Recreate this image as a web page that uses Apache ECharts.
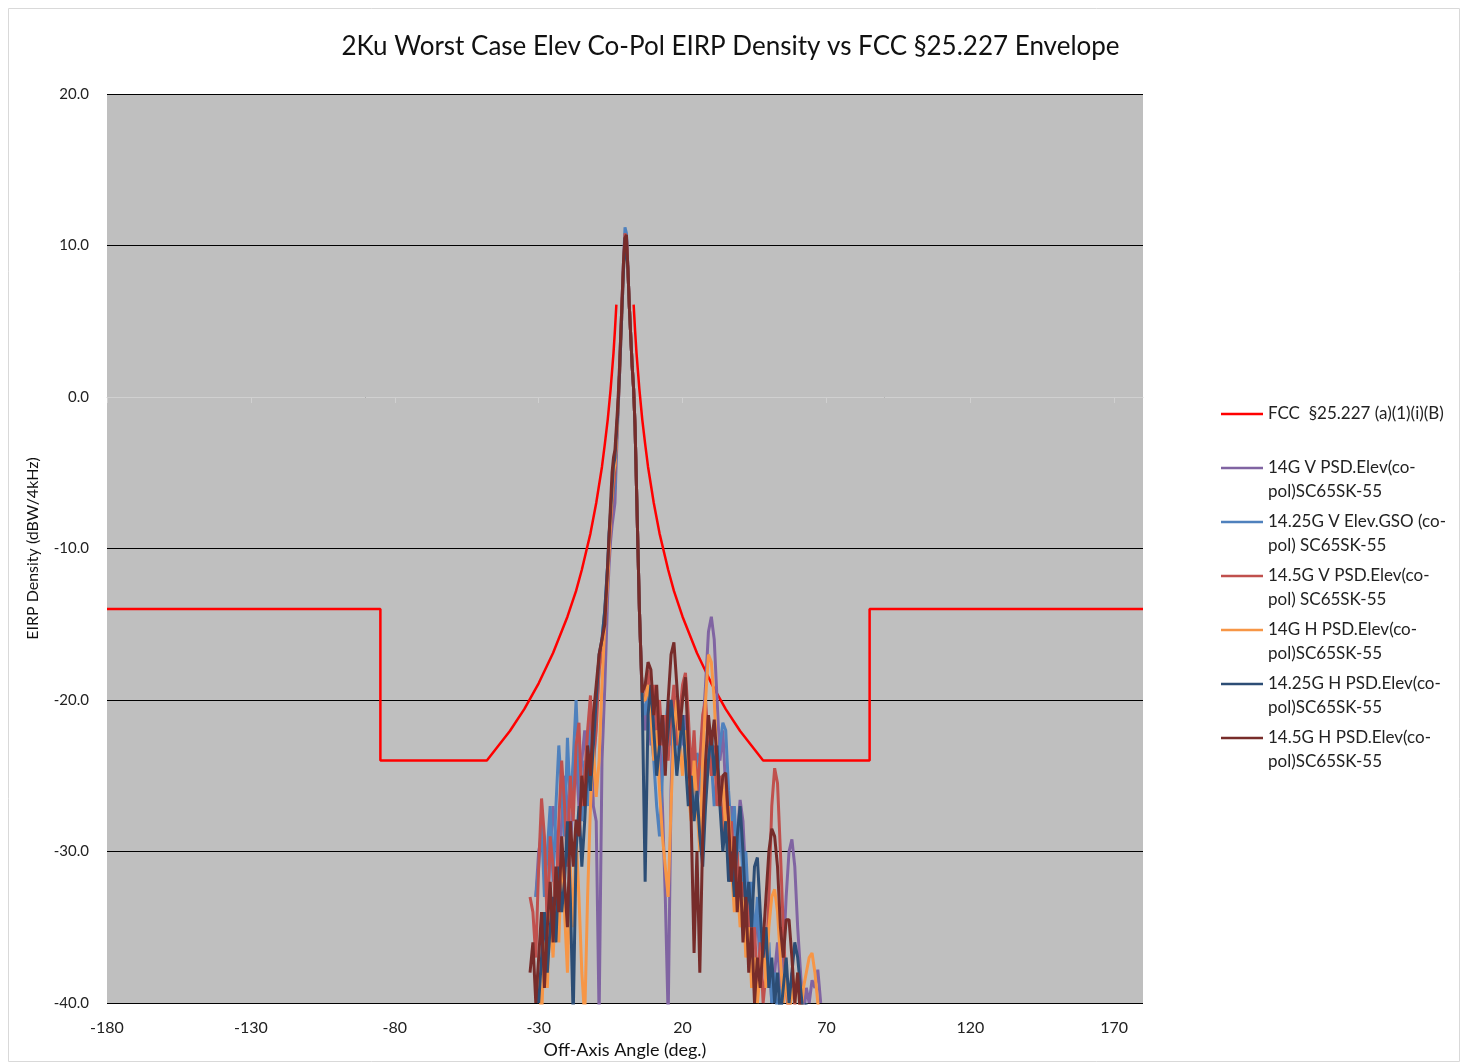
<!DOCTYPE html>
<html>
<head>
<meta charset="utf-8">
<title>2Ku Worst Case Elev Co-Pol EIRP Density vs FCC §25.227 Envelope</title>
<script src="https://cdn.jsdelivr.net/npm/echarts@6/dist/echarts.min.js"></script>
<style>
    html, body {margin: 0; padding: 0; background: #fff;}
    #chart {width: 1461px; height: 1064px;}
</style>
</head>
<body>
<div id="chart"></div>
<script>
// FCC §25.227 envelope (angle, dBW/4kHz); null breaks the line across the main beam
const envX = [-180, -85, -85, -48, -40, -35, -30, -25, -20, -17, -15, -12, -10, -8, -7, -6, -5, -4, -3.5, -3,
    0,
    3, 3.5, 4, 5, 6, 7, 8, 10, 12, 15, 17, 20, 25, 30, 35, 40, 48, 85, 85, 180];
const envY = [-14, -14, -24, -24, -22.05, -20.6, -18.9, -16.9, -14.5, -12.8, -11.4, -9.0, -7.0, -4.6, -3.1, -1.5, 0.5, 2.9, 4.4, 6.1,
    null,
    6.1, 4.4, 2.9, 0.5, -1.5, -3.1, -4.6, -7.0, -9.0, -11.4, -12.8, -14.5, -16.9, -18.9, -20.6, -22.05, -24, -24, -14, -14];

// measured off-axis angles (deg.)
const angles = [-34, -33, -32, -31, -30, -29, -28, -27, -26, -25, -24, -23, -22, -21, -20, -19, -18, -17, -16, -15, -14, -13, -12, -11, -10, -9, -8, -7,
    -6, -5.5, -5, -4.5, -4, -3.5, -3, -2.5, -2, -1.5, -1, -0.5, 0, 0.5, 1, 1.5, 2, 2.5, 3, 3.5, 4, 4.5, 5, 5.5, 6,
    7, 8, 9, 10, 11, 12, 13, 14, 15, 16, 17, 18, 19, 20, 21, 22, 23, 24, 25, 26, 27, 28, 29, 30, 31, 32, 33, 34, 35, 36, 37,
    38, 39, 40, 41, 42, 43, 44, 45, 46, 47, 48, 49, 50, 51, 52, 53, 54, 55, 56, 57, 58, 59, 60, 61, 62, 63, 64, 65, 66, 67, 68];

const v14 = [null, null, null, -33, -30, -29, -31, -34, -30, -27, -29, -32, -28, -25, -27, -30, -26, -24, -27, -24, -22, -25, -20, -27, -28, -41, -24, -19,
    -13, -11, -9.5, -8.5, -8.5, -7, -4, -1.5, 1, 3.5, 6, 8.5, 10.2, 10.6, 8.5, 6, 4, 2, 0.5, -2, -6, -10, -14, -17, -20,
    -22, -20, -23, -21, -24, -22, -27, -33, -41, -26, -20, -22, -20, -23, -21, -24, -26, -23, -27, -25, -22, -19, -15.5, -14.5, -16,
    -20, -24, -22, -26, -29, -27, -31, -29, -26.6, -28, -32, -35, -33, -36, -34, -38, -36, -39, -37, -40, -38, -36, -39, -37, -33,
    -30, -29.2, -31, -35, -38, -41, -39, -40, -38.5, -39, -37.8, -40];

const v1425 = [null, null, null, -33, -31, -28, -33, -30, -27, -32, -27, -23, -26, -29, -22.5, -27, -24, -20, -25, -28, -24, -27, -22, -25, -21, -18, -16, -14,
    -11, -9, -8, -7, -7, -6, -3, -1, 1.5, 4, 6.5, 9, 11.2, 10.8, 8.5, 6, 4, 2, 0.5, -2, -6, -10, -14, -17, -20,
    -21, -19, -22, -24, -27, -29, -25, -22, -20, -23, -20, -22, -24, -21, -23, -26, -24, -27, -23.5, -24, -28, -25, -22, -24, -27,
    -25, -23, -21.5, -22, -26, -29, -27, -31, -28, -32, -30, -34, -32, -36, -33, -37, -35, -39, -36, -40, -38, -41, -39, -42,
    null, null, null, null, null, null, null, null, null, null, null, null, null];

const v145 = [null, -33, -34, -37, -31, -26.5, -29, -35, -29, -31, -34, -28, -24, -27, -31, -25, -28, -23, -21.5, -27, -25, -22, -19.7, -24, -22, -18, -17, -14,
    -12, -10, -8.5, -7, -6, -5, -3, -1, 1, 4, 6.5, 9, 10.8, 10.5, 8.5, 6, 4, 2, 0.5, -2, -6, -10, -14, -17, -20,
    -20, -18, -21, -19, -22, -20, -23, -21, -24, -21, -19, -23, -21, -19, -18.2, -21, -25, -22, -26, -24, -21, -20, -23, -25, -23,
    -27, -25, -29, -26, -31, -28, -33, -30, -34, -32, -36, -33, -37, -35, -39, -36, -40, -38, -33, -27, -24.5, -25.5, -30, -35,
    -39, -41, -38, -40, -42, null, null, null, null, null, null, null, null];

const h14 = [null, null, null, null, -38, -41, -36, -39, -34, -37, -33, -36, -30, -34, -38, -31, -35, -29, -33, -38, -41, -33, -27, -23, -26.4, -24, -19, -15,
    -12, -10, -8, -6.5, -5, -4.5, -3, -1, 1, 3.5, 6, 8.5, 10.2, 10.2, 8.5, 6, 4, 2, 0.5, -2, -6, -10, -14, -17, -20,
    -20, -19, -21, -24, -22, -26, -29, -31, -33, -27, -22, -20, -23, -25, -22, -26, -28, -24, -27, -30, -24, -20, -17, -17.5, -20,
    -24, -27, -25, -29, -27, -31, -34, -32, -35, -33, -37, -35, -39, -37, -40, -38, -36, -39, -35, -33, -32.5, -34, -37, -40,
    -38, -41, -39, -40, -38, -41, -39, -38, -37, -36.7, -38, -40, -41];

const h1425 = [null, null, null, -39, -40, -37, -34, -38, -35, -33, -36, -31, -34, -31.9, -28, -33, -41, -30, -27, -31, -28, -24, -26, -23, -20, -17, -16, -14,
    -11, -9, -7.5, -6, -4.5, -4, -2.5, -1, 1, 3.5, 6, 8.5, 10.5, 10.5, 8.5, 6, 4, 2, 0.5, -2, -6, -10, -14, -17, -20,
    -32, -21, -19, -22, -25, -23, -21, -24, -22, -20, -22, -25, -23, -21, -24, -27, -25, -28, -26, -29, -31, -27, -24, -22, -25,
    -23, -27, -30, -28, -32, -30, -33, -29, -27, -30, -34, -32, -35, -31, -30.4, -34, -37, -35, -39, -37, -40, -38, -41, -39,
    -37, -40, -38, -36, -37, -39, -41, -40, null, null, null, null, null];

const h145 = [null, -38, -36, -40, -37, -34, -39, -35, -32, -36, -31, -34, -29, -32, -35, -28, -31, -27.9, -29, -25, -27, -23, -25, -21, -19, -17, -16, -15,
    -11, -9, -7, -5, -4, -3.5, -2, -0.5, 1.5, 4, 6.5, 9, 10.5, 10.7, 8.5, 6, 4, 2, 0.5, -2, -6, -10, -14, -17, -19.5,
    -19, -17.5, -18, -21, -19, -23, -21, -25, -20, -17, -16.2, -19, -22, -20, -18.5, -23, -28, -36.7, -30, -38, -29, -24, -21, -23, -21.3,
    -24, -27, -25, -24.8, -28, -32, -29, -34, -31, -36, -33, -38, -35, -40, -37, -39, -36, -33, -30, -28.5, -29, -31, -35, -37,
    -34.5, -34.5, -37, -40, -38, -41, null, null, null, null, null, null, null];

const xTicks = [-180, -130, -80, -30, 20, 70, 120, 170];

const seriesNames = [
    'FCC  §25.227 (a)(1)(i)(B)\n',
    '14G V PSD.Elev(co-\npol)SC65SK-55',
    '14.25G V Elev.GSO (co-\npol) SC65SK-55',
    '14.5G V PSD.Elev(co-\npol) SC65SK-55',
    '14G H PSD.Elev(co-\npol)SC65SK-55',
    '14.25G H PSD.Elev(co-\npol)SC65SK-55',
    '14.5G H PSD.Elev(co-\npol)SC65SK-55'
];
const seriesColors = ['#FF0000', '#8064A2', '#4F81BD', '#C0504D', '#F79646', '#2C4D75', '#772C2A'];

const pairs = (xs, ys) => xs.map((x, i) => [x, ys[i]]);

const chart = echarts.init(document.getElementById('chart'));

const measured = [v14, v1425, v145, h14, h1425, h145];

const option = {
    animation: false,
    color: seriesColors,
    textStyle: {fontFamily: 'Lato'},
    title: {
        text: '2Ku Worst Case Elev Co-Pol EIRP Density vs FCC §25.227 Envelope',
        left: 'center',
        top: 29,
        textStyle: {fontFamily: 'Lato', fontSize: 26, fontWeight: 'normal', color: '#111'}
    },
    graphic: [{
        type: 'rect',
        shape: {x: 8.5, y: 8.5, width: 1451, height: 1053},
        style: {fill: 'none', stroke: '#D9D9D9', lineWidth: 1},
        silent: true
    }],
    grid: {
        left: 107,
        right: 318,
        top: 94,
        bottom: 61,
        show: true,
        backgroundColor: '#BFBFBF',
        borderWidth: 0
    },
    legend: {
        orient: 'vertical',
        left: 1216,
        top: 397,
        itemWidth: 42,
        itemHeight: 48,
        itemGap: 6,
        icon: 'path://M0,0L42,0L42,2.5L0,2.5Z M0,26.5L0.01,26.5Z',
        itemStyle: {borderWidth: 0},
        textStyle: {fontFamily: 'Lato', fontSize: 17, lineHeight: 24, color: '#222'},
        data: seriesNames
    },
    xAxis: {
        type: 'value',
        min: -180,
        max: 180,
        interval: 50,
        name: 'Off-Axis Angle (deg.)',
        nameLocation: 'middle',
        nameGap: 37,
        nameTextStyle: {fontFamily: 'Lato', fontSize: 18, color: '#111'},
        axisLine: {lineStyle: {color: '#D0D0D0', width: 1}},
        axisTick: {show: true, length: 6, customValues: xTicks, lineStyle: {color: '#D0D0D0'}},
        axisLabel: {customValues: xTicks, fontSize: 16, color: '#222', margin: 17},
        splitLine: {show: false}
    },
    yAxis: {
        type: 'value',
        min: -40,
        max: 20,
        interval: 10,
        name: 'EIRP Density (dBW/4kHz)',
        nameLocation: 'middle',
        nameGap: 66,
        nameTextStyle: {fontFamily: 'Lato', fontSize: 16, color: '#111'},
        axisLine: {show: false},
        axisTick: {show: false},
        axisLabel: {fontSize: 15, color: '#222', margin: 18, formatter: v => v.toFixed(1)},
        splitLine: {show: true, lineStyle: {color: '#000', width: 1}}
    },
    series: [
        {
            type: 'line',
            name: seriesNames[0],
            data: pairs(envX, envY),
            showSymbol: false,
            connectNulls: false,
            lineStyle: {width: 2.5, color: seriesColors[0]},
            z: 1
        },
        ...measured.map((vals, i) => ({
            type: 'line',
            name: seriesNames[i + 1],
            data: pairs(angles, vals),
            showSymbol: false,
            connectNulls: false,
            clip: true,
            lineStyle: {width: 3, color: seriesColors[i + 1]},
            z: 2
        }))
    ]
};

chart.setOption(option);
</script>
</body>
</html>
